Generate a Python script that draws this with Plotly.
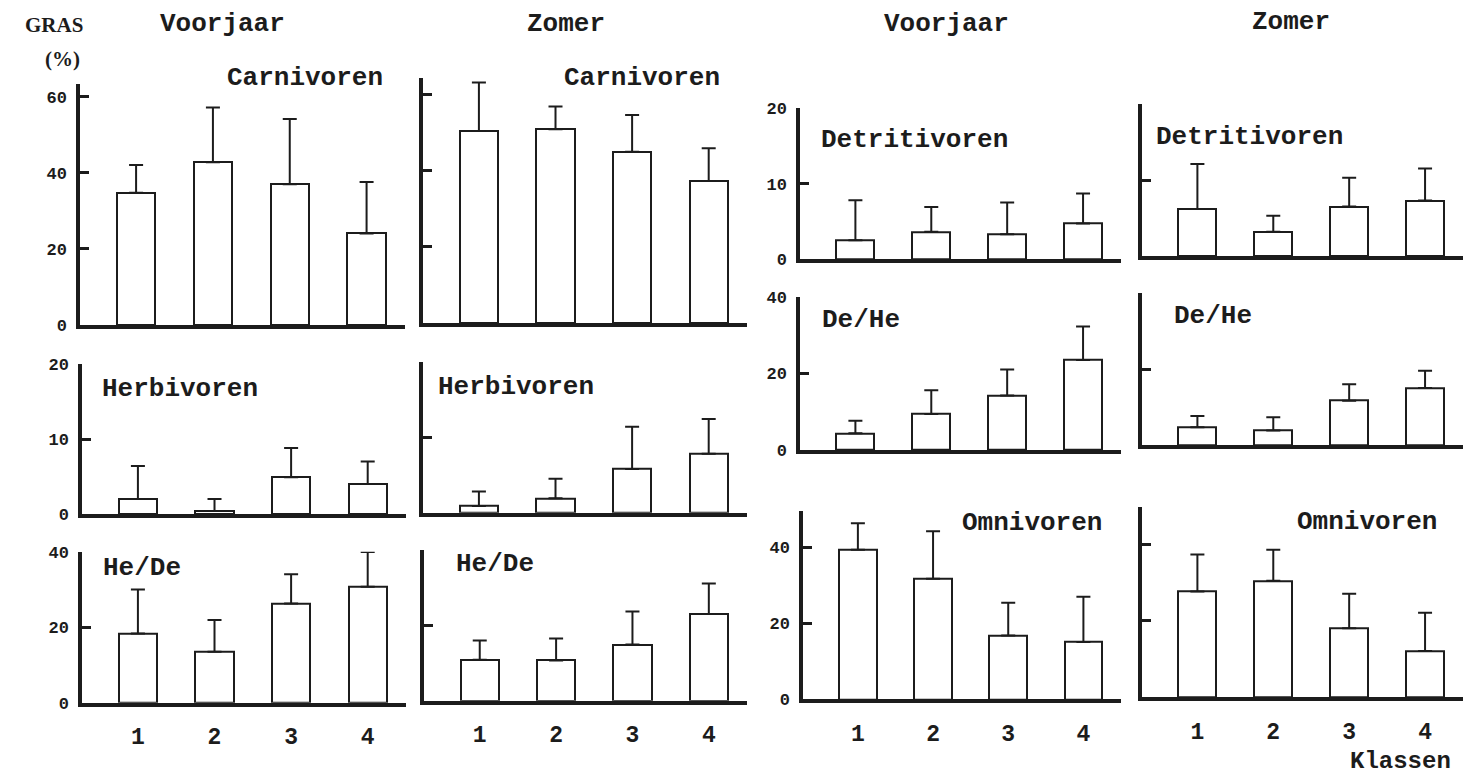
import plotly.graph_objects as go

W, H = 1467, 777

# ---------------- data ----------------
klassen = [1, 2, 3, 4]
klassen_labels = ["1", "2", "3", "4"]

carni_voorjaar = [34.8, 42.8, 37.0, 24.1]
carni_voorjaar_sd = [7.3, 14.4, 17.2, 13.5]
carni_zomer = [50.3, 50.8, 44.9, 37.2]
carni_zomer_sd = [12.7, 5.9, 9.6, 8.6]

herbi_voorjaar = [2.0, 0.4, 4.9, 4.0]
herbi_voorjaar_sd = [4.4, 1.6, 3.9, 3.0]
herbi_zomer = [0.9, 1.9, 5.8, 7.8]
herbi_zomer_sd = [1.9, 2.6, 5.6, 4.6]

hede_voorjaar = [18.3, 13.5, 26.3, 30.7]
hede_voorjaar_sd = [11.7, 8.4, 7.7, 9.2]
hede_zomer = [10.9, 10.7, 14.9, 23.0]
hede_zomer_sd = [5.1, 5.8, 8.8, 8.1]

detri_voorjaar = [2.5, 3.6, 3.3, 4.7]
detri_voorjaar_sd = [5.3, 3.3, 4.2, 4.0]
detri_zomer = [6.2, 3.2, 6.5, 7.3]
detri_zomer_sd = [5.9, 2.1, 3.8, 4.2]

dehe_voorjaar = [4.35, 9.4, 14.2, 23.5]
dehe_voorjaar_sd = [3.25, 6.2, 6.8, 8.7]
dehe_zomer = [4.7, 3.8, 11.7, 15.0]
dehe_zomer_sd = [2.95, 3.5, 4.3, 4.6]

omni_voorjaar = [39.3, 31.7, 16.8, 15.1]
omni_voorjaar_sd = [7.0, 12.5, 8.6, 11.9]
omni_zomer = [27.6, 30.4, 18.0, 12.1]
omni_zomer_sd = [9.7, 8.1, 9.0, 10.0]

# ---------------- layout of panels (pixels) ----------------
panels = [
    ("Carnivoren", carni_voorjaar, carni_voorjaar_sd, 80, 405, 325, 84, 63.4, [0, 20, 40, 60], True, False, 225, 78),
    ("Carnivoren", carni_zomer, carni_zomer_sd, 423, 747, 323, 78, 64.2, [0, 20, 40, 60], False, False, 562, 78),
    ("Herbivoren", herbi_voorjaar, herbi_voorjaar_sd, 82, 406, 514, 364, 20, [0, 10, 20], True, False, 100, 389),
    ("Herbivoren", herbi_zomer, herbi_zomer_sd, 423, 747, 512.7, 361.7, 20, [0, 10, 20], False, False, 436, 387),
    ("He/De", hede_voorjaar, hede_voorjaar_sd, 82, 406, 702.7, 551.7, 40, [0, 20, 40], True, True, 101, 568),
    ("He/De", hede_zomer, hede_zomer_sd, 424, 747, 700.7, 550, 40, [0, 20, 40], False, True, 454, 564),
    ("Detritivoren", detri_voorjaar, detri_voorjaar_sd, 800, 1121, 259, 108.3, 20, [0, 10, 20], True, False, 819, 140),
    ("Detritivoren", detri_zomer, detri_zomer_sd, 1142, 1463, 256, 104, 20, [0, 10, 20], False, False, 1154, 137),
    ("De/He", dehe_voorjaar, dehe_voorjaar_sd, 800, 1121, 450, 296.7, 40, [0, 20, 40], True, False, 820, 320),
    ("De/He", dehe_zomer, dehe_zomer_sd, 1142, 1463, 445, 293.3, 40, [0, 20, 40], False, False, 1172, 316),
    ("Omnivoren", omni_voorjaar, omni_voorjaar_sd, 803, 1121, 699.3, 510.7, 49.6, [0, 20, 40], True, True, 960, 523),
    ("Omnivoren", omni_zomer, omni_zomer_sd, 1142, 1463, 697.3, 507.3, 49.6, [0, 20, 40], False, True, 1295, 522),
]

INK = "#1c1c1c"
MONO = "Liberation Mono, Courier New, monospace"

fig = go.Figure()
layout = dict(
    width=W, height=H, autosize=False,
    margin=dict(l=0, r=0, t=0, b=0, autoexpand=False),
    paper_bgcolor="white", plot_bgcolor="rgba(0,0,0,0)",
    showlegend=False, bargap=0,
)
annotations = []

def fx(px):
    return px / W

def fy(py):
    return 1 - py / H

for i, (title, vals, sd, x0, x1, base, top, ymax, ticks, ylab, xlab, tx, ty) in enumerate(panels, start=1):
    xa = "x" if i == 1 else f"x{i}"
    ya = "y" if i == 1 else f"y{i}"
    fig.add_trace(go.Bar(
        x=klassen, y=vals, width=0.5,
        xaxis=xa, yaxis=ya,
        marker=dict(color="white", line=dict(color=INK, width=2)),
        error_y=dict(type="data", array=sd, arrayminus=[0] * len(sd), symmetric=False,
                     color=INK, thickness=2, width=7),
        hoverinfo="skip",
    ))
    layout["xaxis" if i == 1 else f"xaxis{i}"] = dict(
        domain=[fx(x0), fx(x1)], anchor=ya, range=[0.27, 4.5],
        showline=True, linecolor=INK, linewidth=3.5,
        showgrid=False, zeroline=False, ticks="",
        tickvals=klassen, ticktext=klassen_labels,
        showticklabels=xlab, ticklabelstandoff=10,
        tickfont=dict(family=MONO, size=23, color=INK, weight="bold"),
        fixedrange=True,
    )
    layout["yaxis" if i == 1 else f"yaxis{i}"] = dict(
        domain=[fy(base), fy(top)], anchor=xa, range=[0, ymax],
        showline=True, linecolor=INK, linewidth=3.5,
        showgrid=False, zeroline=False,
        ticks="inside", ticklen=9, tickwidth=2.5, tickcolor=INK,
        tickvals=ticks, ticktext=[str(t) for t in ticks],
        showticklabels=ylab, ticklabelstandoff=6,
        tickfont=dict(family=MONO, size=17, color=INK, weight="bold"),
        fixedrange=True,
    )
    annotations.append(dict(
        text=f"<b>{title}</b>", xref="paper", yref="paper",
        x=fx(tx), y=fy(ty), xanchor="left", yanchor="middle", showarrow=False,
        font=dict(family=MONO, size=26, color=INK),
    ))

# column headings
headings = [("Voorjaar", 223, 24), ("Zomer", 566, 24), ("Voorjaar", 946, 24), ("Zomer", 1291, 22)]
for txt, cx, cy in headings:
    annotations.append(dict(
        text=f"<b>{txt}</b>", xref="paper", yref="paper",
        x=fx(cx), y=fy(cy), xanchor="center", yanchor="middle", showarrow=False,
        font=dict(family=MONO, size=26, color=INK),
    ))

annotations.append(dict(text="<b>GRAS</b>", xref="paper", yref="paper", x=fx(54), y=fy(25),
                        xanchor="center", yanchor="middle", showarrow=False,
                        font=dict(family="Liberation Serif, Times New Roman, serif", size=21, color=INK)))
annotations.append(dict(text="<b>(%)</b>", xref="paper", yref="paper", x=fx(62), y=fy(59),
                        xanchor="center", yanchor="middle", showarrow=False,
                        font=dict(family="Liberation Serif, Times New Roman, serif", size=21, color=INK)))
annotations.append(dict(text="<b>Klassen</b>", xref="paper", yref="paper", x=fx(1400), y=fy(761),
                        xanchor="center", yanchor="middle", showarrow=False,
                        font=dict(family=MONO, size=24, color=INK)))

layout["annotations"] = annotations
fig.update_layout(**layout)
fig.write_html("out.html")
